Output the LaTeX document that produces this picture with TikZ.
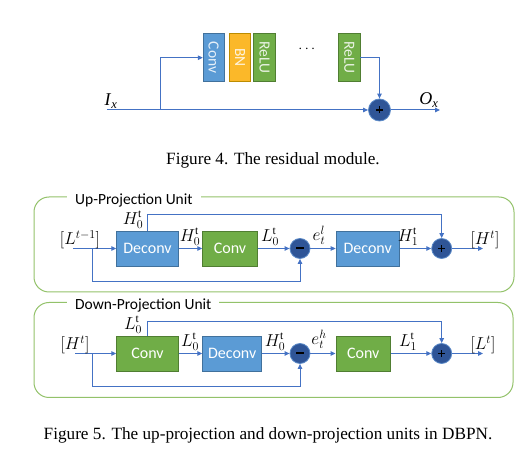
\documentclass[tikz,border=0pt]{standalone}
\usepackage{fontspec}
\usepackage{amsmath}
\setmainfont{Liberation Serif}
\newfontfamily\carlito{Carlito}
\usetikzlibrary{arrows.meta}
\definecolor{lineblue}{HTML}{4472C4}
\definecolor{boxblue}{HTML}{5B9BD5}
\definecolor{boxblueb}{HTML}{41719C}
\definecolor{boxgreen}{HTML}{70AD47}
\definecolor{boxgreenb}{HTML}{507E32}
\definecolor{boxorange}{HTML}{FBB829}
\definecolor{boxorangeb}{HTML}{BC8C00}
\definecolor{frame}{HTML}{93C26A}
\definecolor{opfill}{HTML}{2F5597}
\definecolor{opdraw}{HTML}{5B8AC8}
\tikzset{
  conn/.style={draw=lineblue, line width=1pt, -{Triangle[length=5pt,width=4.5pt]}},
  blk/.style={draw=#1b, fill=#1, line width=0.8pt, inner sep=0pt, text=white,
     font=\carlito\fontsize{16}{16}\selectfont, minimum height=35pt},
  vblk/.style={draw=#1b, fill=#1, line width=0.8pt, inner sep=0pt,
     minimum width=21pt, minimum height=48.5pt},
  vtxt/.style={rotate=-90, font=\carlito\fontsize{15.5}{15.5}\selectfont, text=white, text opacity=0.85},
  op/.style={circle, draw=opdraw, fill=opfill, line width=0.8pt, minimum size=20pt, inner sep=0pt},
  lbl/.style={inner sep=0pt, font=\fontsize{16.5}{16.5}\selectfont},
  unitframe/.style={draw=frame, line width=1pt, rounded corners=15pt},
  unittitle/.style={fill=white, inner xsep=8pt, inner ysep=1pt, anchor=west, font=\carlito\fontsize{15.5}{15.5}\selectfont},
  caption/.style={font=\fontsize{17.2}{17.2}\selectfont, inner sep=0pt},
}
\newcommand{\plussign}{\tikz[baseline=-0.5ex]{\draw[line width=1.1pt] (-3.5pt,0)--(3.5pt,0) (0,-3.5pt)--(0,3.5pt);}}
\newcommand{\minussign}{\tikz[baseline=-0.5ex]{\draw[line width=2pt] (-4pt,0)--(4pt,0);}}
\begin{document}
\begin{tikzpicture}[x=1pt,y=-1pt]
\useasboundingbox (0,0) rectangle (531,457);

% ---------------- Figure 4 ----------------
\node[vblk=boxblue, minimum width=21pt] (rconv) at (213.7,57.5) {};
\node[vtxt] at (rconv) {Conv};
\node[vblk=boxorange, minimum width=21.5pt] (rbn) at (240,57.5) {};
\node[vtxt] at (rbn) {BN};
\node[vblk=boxgreen, minimum width=21.5pt] (rrelu) at (264.5,57.5) {};
\node[vtxt] at (rrelu) {ReLU};
\node[inner sep=0pt, font=\fontsize{15}{15}\selectfont] (rdots) at (308,49.5) {$\cdots$};
\node[vblk=boxgreen, minimum width=21.5pt] (rrelu2) at (349.2,57.5) {};
\node[vtxt] at (rrelu2) {ReLU};
\node[op, minimum size=22pt] (radd) at (379.5,110) {\plussign};
\coordinate (rin) at (107,110);
\coordinate (rbr) at (160,110);
\coordinate (rout) at (440,110);
\node[inner sep=0pt, font=\fontsize{18}{18}\selectfont] (ix) at (111,101) {\textit{I}$_{\textit{x}}$};
\node[inner sep=0pt, font=\fontsize{18}{18}\selectfont] (ox) at (429,100) {\textit{O}$_{\textit{x}}$};
\draw[conn] (rin) -- (radd);
\draw[conn] (rbr) |- (rconv.west |- 0,57.7);
\draw[conn] (rrelu2.east |- 0,57.7) -| (radd);
\draw[conn] (radd) -- (rout);
\node[caption] (cap4) at (273,160) {Figure 4. The residual module.};

% ---------------- Up-projection ----------------
\draw[unitframe] (34,197) rectangle (514,292);
\node[unittitle] (uptitle) at (67,200) {Up-Projection Unit};
\node[blk=boxblue, minimum width=61.6pt] (ud1) at (147.5,248.5) {Deconv};
\node[blk=boxgreen, minimum width=54.6pt] (uc) at (230,248.5) {Conv};
\node[op] (usub) at (300,248.5) {\minussign};
\node[blk=boxblue, minimum width=63.3pt] (ud2) at (367.7,248.5) {Deconv};
\node[op] (uadd) at (441.7,248.5) {\plussign};
\coordinate (uin) at (73,248.5);
\coordinate (ubr) at (92.7,248.5);
\coordinate (uout) at (483,248.5);
\coordinate (uskip) at (147.7,215);
\coordinate (ulow) at (92.7,282);
\draw[conn] (uin) -- (ud1);
\draw[conn] (ud1) -- (uc);
\draw[conn] (uc) -- (usub);
\draw[conn] (usub) -- (ud2);
\draw[conn] (ud2) -- (uadd);
\draw[conn] (uadd) -- (uout);
\draw[conn] (ubr) -- (ulow) -| (usub);
\draw[conn] (ud1.north -| uskip) -- (uskip) -| (uadd);
\node[lbl] (uinl) at (80,240) {$[L^{t-1}]$};
\node[lbl] (uoutl) at (485,240) {$[H^{t}]$};
\node[lbl] (uh0a) at (133,220) {$H_0^{\mathrm{t}}$};
\node[lbl] (uh0b) at (190,237) {$H_0^{\mathrm{t}}$};
\node[lbl] (ul0) at (270,237) {$L_0^{\mathrm{t}}$};
\node[lbl] (uel) at (319,235.5) {$e_t^{l}$};
\node[lbl] (uh1) at (408,237) {$H_1^{\mathrm{t}}$};

% ---------------- Down-projection ----------------
\draw[unitframe] (34,302.5) rectangle (513,397.5);
\node[unittitle] (dntitle) at (67,305.5) {Down-Projection Unit};
\node[blk=boxgreen, minimum width=61.6pt] (dc1) at (147.5,353.5) {Conv};
\node[blk=boxblue, minimum width=59pt] (dd) at (232.2,353.5) {Deconv};
\node[op] (dsub) at (300,353.5) {\minussign};
\node[blk=boxgreen, minimum width=54.7pt] (dc2) at (363.3,353.5) {Conv};
\node[op] (dadd) at (441.7,353.5) {\plussign};
\coordinate (din) at (75,353.5);
\coordinate (dbr) at (92.7,353.5);
\coordinate (dout) at (483,353.5);
\coordinate (dskip) at (147.7,321.5);
\coordinate (dlow) at (92.7,387);
\draw[conn] (din) -- (dc1);
\draw[conn] (dc1) -- (dd);
\draw[conn] (dd) -- (dsub);
\draw[conn] (dsub) -- (dc2);
\draw[conn] (dc2) -- (dadd);
\draw[conn] (dadd) -- (dout);
\draw[conn] (dbr) -- (dlow) -| (dsub);
\draw[conn] (dc1.north -| dskip) -- (dskip) -| (dadd);
\node[lbl] (dinl) at (75,345) {$[H^{t}]$};
\node[lbl] (doutl) at (483,345) {$[L^{t}]$};
\node[lbl] (dl0a) at (133,325) {$L_0^{\mathrm{t}}$};
\node[lbl] (dl0b) at (190,342) {$L_0^{\mathrm{t}}$};
\node[lbl] (dh0) at (275,342) {$H_0^{\mathrm{t}}$};
\node[lbl] (deh) at (319,339.5) {$e_t^{h}$};
\node[lbl] (dl1) at (408,342) {$L_1^{\mathrm{t}}$};

\node[caption] (cap5) at (268,435) {Figure 5. The up-projection and down-projection units in DBPN.};
\end{tikzpicture}
\end{document}
